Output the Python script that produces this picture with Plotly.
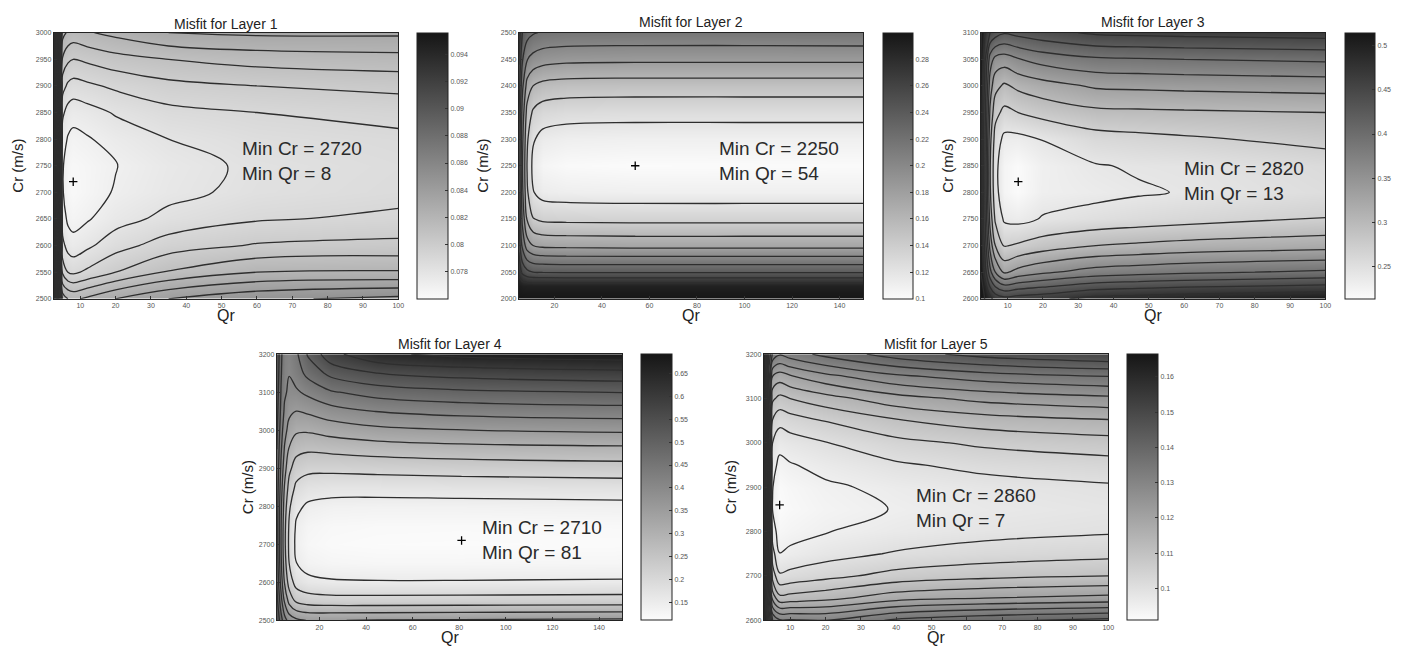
import numpy as np
import plotly.graph_objects as go

FONT = "Liberation Sans, Arial, Helvetica, sans-serif"
W, H = 1413, 649

titles = ["Misfit for Layer 1", "Misfit for Layer 2", "Misfit for Layer 3",
          "Misfit for Layer 4", "Misfit for Layer 5"]
min_cr = [2720, 2250, 2820, 2710, 2860]
min_qr = [8, 54, 13, 81, 7]

# ---------------- Layer 1 ----------------
q1 = [2.5, 3.25, 4, 5, 6.5, 8, 12, 20, 35, 60, 100]
c1 = [2500, 2550, 2600, 2650, 2700, 2750, 2800, 2850, 2900, 2950, 3000]
z1_by_q = [
    [0.0956, 0.0955, 0.0954, 0.0953, 0.0953, 0.0953, 0.0953, 0.0953, 0.0954, 0.0955, 0.0956],
    [0.0925, 0.0915, 0.0909, 0.0906, 0.0905, 0.0905, 0.0906, 0.0908, 0.0912, 0.0918, 0.0926],
    [0.0875, 0.0860, 0.0852, 0.0847, 0.0845, 0.0845, 0.0847, 0.0850, 0.0856, 0.0865, 0.0877],
    [0.0826, 0.0797, 0.0783, 0.0775, 0.0771, 0.0771, 0.0775, 0.0782, 0.0794, 0.0808, 0.0824],
    [0.0820, 0.0790, 0.0776, 0.0768, 0.0764, 0.0765, 0.0769, 0.0776, 0.0788, 0.0802, 0.0818],
    [0.0818, 0.0788, 0.0774, 0.0766, 0.0762, 0.0763, 0.0767, 0.0774, 0.0786, 0.0800, 0.0816],
    [0.0822, 0.0792, 0.0778, 0.0769, 0.0765, 0.0765, 0.0769, 0.0776, 0.0788, 0.0802, 0.0819],
    [0.0830, 0.0800, 0.0786, 0.0776, 0.0771, 0.07695, 0.0774, 0.0781, 0.0792, 0.0806, 0.0823],
    [0.0840, 0.0811, 0.0795, 0.0783, 0.0777, 0.0776, 0.0780, 0.0787, 0.0797, 0.0810, 0.0830],
    [0.0848, 0.0820, 0.0801, 0.0789, 0.0783, 0.0782, 0.0785, 0.0790, 0.0800, 0.0814, 0.0832],
    [0.0853, 0.0821, 0.0803, 0.0792, 0.0787, 0.0786, 0.0788, 0.0793, 0.0803, 0.0816, 0.0832],
]
zr1 = [0.0760, 0.0956]
lev1 = [0.077, 0.095, 0.001]
xt1 = [10, 20, 30, 40, 50, 60, 70, 80, 90, 100]
yt1 = [2500, 2550, 2600, 2650, 2700, 2750, 2800, 2850, 2900, 2950, 3000]
cbt1 = [0.078, 0.080, 0.082, 0.084, 0.086, 0.088, 0.090, 0.092, 0.094]
xr1 = [2.5, 100]

# ---------------- Layer 2 ----------------
q2 = [5, 6.5, 8.5, 11, 15, 25, 54, 100, 150]
c2 = [2000, 2025, 2050, 2100, 2150, 2200, 2250, 2300, 2350, 2400, 2450, 2500]
z2_by_q = [
    [0.300, 0.294, 0.275, 0.255, 0.245, 0.240, 0.238, 0.240, 0.245, 0.252, 0.262, 0.272],
    [0.300, 0.291, 0.255, 0.215, 0.195, 0.185, 0.182, 0.185, 0.192, 0.205, 0.222, 0.240],
    [0.300, 0.290, 0.245, 0.190, 0.158, 0.143, 0.139, 0.143, 0.153, 0.172, 0.201, 0.228],
    [0.300, 0.290, 0.240, 0.180, 0.141, 0.121, 0.115, 0.122, 0.137, 0.160, 0.193, 0.222],
    [0.300, 0.290, 0.239, 0.176, 0.136, 0.113, 0.105, 0.114, 0.130, 0.154, 0.188, 0.218],
    [0.300, 0.290, 0.238, 0.175, 0.135, 0.111, 0.1015, 0.111, 0.127, 0.151, 0.185, 0.216],
    [0.300, 0.290, 0.238, 0.174, 0.134, 0.110, 0.1000, 0.110, 0.126, 0.150, 0.184, 0.215],
    [0.300, 0.290, 0.238, 0.174, 0.134, 0.110, 0.1002, 0.110, 0.126, 0.150, 0.184, 0.215],
    [0.300, 0.290, 0.238, 0.174, 0.134, 0.110, 0.1005, 0.110, 0.126, 0.150, 0.184, 0.216],
]
zr2 = [0.100, 0.300]
lev2 = [0.12, 0.29, 0.02]
xt2 = [20, 40, 60, 80, 100, 120, 140]
yt2 = [2000, 2050, 2100, 2150, 2200, 2250, 2300, 2350, 2400, 2450, 2500]
cbt2 = [0.10, 0.12, 0.14, 0.16, 0.18, 0.20, 0.22, 0.24, 0.26, 0.28]
xr2 = [5, 150]

# ---------------- Layer 3 ----------------
q3 = [2.4, 3.5, 5, 6.5, 9, 13, 20, 35, 47, 60, 100]
c3 = [2600, 2650, 2700, 2750, 2800, 2850, 2900, 2950, 3000, 3050, 3100]
z3_by_q = [
    [0.515, 0.510, 0.505, 0.500, 0.500, 0.500, 0.500, 0.502, 0.505, 0.510, 0.515],
    [0.510, 0.470, 0.445, 0.430, 0.425, 0.425, 0.428, 0.435, 0.445, 0.460, 0.480],
    [0.490, 0.400, 0.350, 0.320, 0.305, 0.303, 0.310, 0.325, 0.345, 0.375, 0.450],
    [0.470, 0.360, 0.300, 0.265, 0.250, 0.248, 0.257, 0.280, 0.310, 0.350, 0.435],
    [0.460, 0.325, 0.268, 0.236, 0.222, 0.222, 0.233, 0.262, 0.295, 0.345, 0.423],
    [0.465, 0.340, 0.274, 0.232, 0.214, 0.214, 0.232, 0.270, 0.307, 0.358, 0.430],
    [0.470, 0.355, 0.285, 0.242, 0.229, 0.228, 0.241, 0.280, 0.318, 0.372, 0.440],
    [0.490, 0.373, 0.300, 0.2495, 0.2335, 0.2385, 0.258, 0.293, 0.334, 0.385, 0.455],
    [0.495, 0.379, 0.305, 0.2545, 0.2375, 0.2425, 0.262, 0.2945, 0.336, 0.3875, 0.4575],
    [0.500, 0.385, 0.310, 0.259, 0.2412, 0.2440, 0.266, 0.296, 0.338, 0.390, 0.460],
    [0.510, 0.395, 0.318, 0.271, 0.252, 0.256, 0.278, 0.300, 0.342, 0.395, 0.465],
]
zr3 = [0.213, 0.515]
lev3 = [0.24, 0.51, 0.03]
xt3 = [10, 20, 30, 40, 50, 60, 70, 80, 90, 100]
yt3 = [2600, 2650, 2700, 2750, 2800, 2850, 2900, 2950, 3000, 3050, 3100]
cbt3 = [0.25, 0.30, 0.35, 0.40, 0.45, 0.50]
xr3 = [2.4, 100]

# ---------------- Layer 4 ----------------
q4 = [1.7, 3.5, 5, 7, 10, 15, 25, 45, 81, 150]
c4 = [2500, 2550, 2600, 2650, 2700, 2750, 2800, 2850, 2900, 2950, 3000, 3050, 3100, 3150, 3200]
z4_by_q = [
    [0.550, 0.520, 0.500, 0.487, 0.480, 0.478, 0.480, 0.485, 0.492, 0.500, 0.510, 0.520, 0.530, 0.540, 0.550],
    [0.470, 0.420, 0.380, 0.360, 0.352, 0.354, 0.362, 0.376, 0.392, 0.408, 0.424, 0.438, 0.448, 0.455, 0.460],
    [0.420, 0.345, 0.297, 0.272, 0.262, 0.265, 0.277, 0.296, 0.320, 0.345, 0.370, 0.392, 0.408, 0.415, 0.420],
    [0.380, 0.285, 0.228, 0.200, 0.190, 0.194, 0.208, 0.232, 0.262, 0.295, 0.330, 0.362, 0.390, 0.402, 0.410],
    [0.360, 0.243, 0.180, 0.151, 0.140, 0.145, 0.161, 0.190, 0.226, 0.266, 0.308, 0.350, 0.392, 0.425, 0.440],
    [0.348, 0.228, 0.162, 0.133, 0.122, 0.127, 0.143, 0.173, 0.213, 0.257, 0.306, 0.358, 0.412, 0.465, 0.505],
    [0.349, 0.222, 0.155, 0.126, 0.115, 0.120, 0.136, 0.168, 0.212, 0.262, 0.320, 0.380, 0.445, 0.515, 0.585],
    [0.352, 0.221, 0.153, 0.123, 0.112, 0.117, 0.134, 0.168, 0.216, 0.272, 0.337, 0.402, 0.472, 0.550, 0.640],
    [0.355, 0.222, 0.153, 0.123, 0.111, 0.116, 0.135, 0.171, 0.222, 0.281, 0.349, 0.417, 0.490, 0.570, 0.665],
    [0.360, 0.225, 0.155, 0.125, 0.113, 0.118, 0.138, 0.175, 0.228, 0.288, 0.358, 0.427, 0.502, 0.585, 0.680],
]
zr4 = [0.111, 0.692]
lev4 = [0.15, 0.65, 0.05]
xt4 = [20, 40, 60, 80, 100, 120, 140]
yt4 = [2500, 2600, 2700, 2800, 2900, 3000, 3100, 3200]
cbt4 = [0.15, 0.20, 0.25, 0.30, 0.35, 0.40, 0.45, 0.50, 0.55, 0.60, 0.65]
xr4 = [1.7, 150]

# ---------------- Layer 5 ----------------
q5 = [2.5, 3.2, 4, 5, 7, 10, 20, 40, 65, 100]
c5 = [2600, 2650, 2700, 2750, 2800, 2850, 2900, 2950, 3000, 3050, 3100, 3150, 3200]
z5_by_q = [
    [0.1664, 0.1660, 0.1656, 0.1653, 0.1651, 0.1650, 0.1650, 0.1650, 0.1651, 0.1653, 0.1656, 0.1660, 0.1664],
    [0.1600, 0.1560, 0.1530, 0.1510, 0.1500, 0.1490, 0.1490, 0.1490, 0.1500, 0.1510, 0.1530, 0.1550, 0.1580],
    [0.1500, 0.1400, 0.1320, 0.1270, 0.1240, 0.1220, 0.1220, 0.1230, 0.1250, 0.1280, 0.1320, 0.1370, 0.1440],
    [0.1350, 0.1180, 0.1080, 0.1020, 0.0975, 0.0948, 0.0952, 0.0970, 0.1000, 0.1045, 0.1110, 0.1200, 0.1340],
    [0.1305, 0.1115, 0.1008, 0.0951, 0.0925, 0.0911, 0.0915, 0.0935, 0.0968, 0.1015, 0.1085, 0.1175, 0.1305],
    [0.1305, 0.1120, 0.1017, 0.0960, 0.0933, 0.0920, 0.0925, 0.0946, 0.0978, 0.1027, 0.1100, 0.1195, 0.1325],
    [0.1300, 0.1135, 0.1035, 0.0980, 0.0948, 0.0935, 0.0942, 0.0965, 0.0998, 0.1052, 0.1130, 0.1235, 0.1365],
    [0.1360, 0.1180, 0.1068, 0.1005, 0.0967, 0.0952, 0.0962, 0.0993, 0.1035, 0.1095, 0.1180, 0.1290, 0.1425],
    [0.1390, 0.1200, 0.1087, 0.1022, 0.0984, 0.0970, 0.0980, 0.1014, 0.1060, 0.1125, 0.1215, 0.1325, 0.1470],
    [0.1415, 0.1215, 0.1100, 0.1035, 0.0995, 0.0982, 0.0993, 0.1030, 0.1078, 0.1145, 0.1238, 0.1350, 0.1500],
]
zr5 = [0.091, 0.1664]
lev5 = [0.095, 0.165, 0.005]
xt5 = [10, 20, 30, 40, 50, 60, 70, 80, 90, 100]
yt5 = [2600, 2700, 2800, 2900, 3000, 3100, 3200]
cbt5 = [0.10, 0.11, 0.12, 0.13, 0.14, 0.15, 0.16]
xr5 = [2.5, 100]

layers = [
    dict(q=q1, c=c1, z=z1_by_q, zr=zr1, lev=lev1, xt=xt1, yt=yt1, cbt=cbt1, xr=xr1),
    dict(q=q2, c=c2, z=z2_by_q, zr=zr2, lev=lev2, xt=xt2, yt=yt2, cbt=cbt2, xr=xr2),
    dict(q=q3, c=c3, z=z3_by_q, zr=zr3, lev=lev3, xt=xt3, yt=yt3, cbt=cbt3, xr=xr3),
    dict(q=q4, c=c4, z=z4_by_q, zr=zr4, lev=lev4, xt=xt4, yt=yt4, cbt=cbt4, xr=xr4),
    dict(q=q5, c=c5, z=z5_by_q, zr=zr5, lev=lev5, xt=xt5, yt=yt5, cbt=cbt5, xr=xr5),
]

# ---------------- geometry (pixels) ----------------
plot_px = [(54, 400, 29, 298), (521, 867, 29, 298), (985, 1331, 29, 298),
           (278, 625, 354, 623), (767, 1113, 354, 623)]
cbar_px = [(419, 31), (887, 30), (1351, 30), (644, 31), (1132, 31)]
text_px = [(241, 159), (720, 159), (1187, 179), (482, 542), (918, 510)]
ylab_x = [18, 485, 952, 248, 733]
title_y = [20, 18, 18, 344, 344]
xlab_y = [315, 315, 315, 640, 640]


def fx(px):
    return px / W


def fy(py):
    return 1 - py / H


GRAY = [[0.0, "#fbfbfb"], [1.0, "#161616"]]
TICKFONT = dict(family=FONT, size=7, color="#555")

fig = go.Figure()
annotations = []
layout_axes = {}

for i, L in enumerate(layers):
    n = "" if i == 0 else str(i + 1)
    x0, x1, y0, y1 = plot_px[i]
    cbx, cbw = cbar_px[i]
    z = np.array(L["z"]).T
    fig.add_trace(go.Contour(
        x=L["q"], y=L["c"], z=z,
        zmin=L["zr"][0], zmax=L["zr"][1], zauto=False,
        colorscale=GRAY, showscale=False,
        contours=dict(start=L["lev"][0], end=L["lev"][1], size=L["lev"][2],
                      coloring="heatmap", showlines=True),
        line=dict(color="#2e2e2e", width=1.3, smoothing=1.0),
        hoverinfo="skip",
        xaxis="x" + n, yaxis="y" + n,
    ))
    # continuous colour bar (gradient, as in the reference)
    fig.add_trace(go.Scatter(
        x=[L["q"][-1]], y=[L["c"][0]], mode="markers",
        marker=dict(size=1, opacity=0, color=[L["zr"][0]],
                    cmin=L["zr"][0], cmax=L["zr"][1], colorscale=GRAY,
                    showscale=True,
                    colorbar=dict(
                        x=fx(cbx), xanchor="left", xpad=0,
                        y=fy((y0 + y1) / 2), yanchor="middle", ypad=0,
                        len=(y1 - y0) / H, lenmode="fraction",
                        thickness=cbw, thicknessmode="pixels",
                        outlinewidth=1, outlinecolor="#222",
                        tickmode="array", tickvals=L["cbt"],
                        ticktext=[f"{v:g}" for v in L["cbt"]],
                        ticks="inside", ticklen=3, tickcolor="#333",
                        tickfont=TICKFONT,
                    )),
        showlegend=False, hoverinfo="skip",
        xaxis="x" + n, yaxis="y" + n,
    ))
    fig.add_trace(go.Scatter(
        x=[min_qr[i]], y=[min_cr[i]], mode="markers",
        marker=dict(symbol="cross-thin", size=6, color="#000",
                    line=dict(width=1.3, color="#000")),
        showlegend=False, hoverinfo="skip",
        xaxis="x" + n, yaxis="y" + n,
    ))
    layout_axes["xaxis" + n] = dict(
        domain=[fx(x0), fx(x1)], range=L["xr"], anchor="y" + n,
        tickmode="array", tickvals=L["xt"],
        ticks="inside", ticklen=3, tickcolor="#333",
        showline=True, mirror=True, linecolor="#222", linewidth=1,
        showgrid=False, zeroline=False, tickfont=TICKFONT,
    )
    layout_axes["yaxis" + n] = dict(
        domain=[fy(y1), fy(y0)], range=[L["c"][0], L["c"][-1]], anchor="x" + n,
        tickmode="array", tickvals=L["yt"],
        ticks="inside", ticklen=3, tickcolor="#333",
        showline=True, mirror=True, linecolor="#222", linewidth=1,
        showgrid=False, zeroline=False, tickfont=TICKFONT,
    )
    annotations.append(dict(
        text=titles[i], x=fx((x0 + x1) / 2), y=fy(title_y[i]),
        xref="paper", yref="paper", xanchor="center", yanchor="middle",
        showarrow=False, font=dict(family=FONT, size=14, color="#222")))
    annotations.append(dict(
        text="Qr", x=fx((x0 + x1) / 2), y=fy(xlab_y[i]),
        xref="paper", yref="paper", xanchor="center", yanchor="middle",
        showarrow=False, font=dict(family=FONT, size=16, color="#222")))
    annotations.append(dict(
        text="Cr (m/s)", x=fx(ylab_x[i]), y=fy((y0 + y1) / 2),
        xref="paper", yref="paper", xanchor="center", yanchor="middle",
        textangle=-90, showarrow=False,
        font=dict(family=FONT, size=15, color="#222")))
    tx, ty = text_px[i]
    annotations.append(dict(
        text=f"Min Cr = {min_cr[i]}<br>Min Qr = {min_qr[i]}",
        x=fx(tx), y=fy(ty), xref="paper", yref="paper",
        xanchor="left", yanchor="middle", align="left",
        showarrow=False, font=dict(family=FONT, size=19, color="#2a2a2a")))

fig.update_layout(
    width=W, height=H, autosize=False,
    margin=dict(l=0, r=0, t=0, b=0),
    paper_bgcolor="white", plot_bgcolor="white",
    showlegend=False,
    annotations=annotations,
    font=dict(family=FONT),
    **layout_axes,
)

fig.write_html("out.html", config={"displayModeBar": False},
               post_script="document.body.style.margin='0';document.body.style.overflow='hidden';")
